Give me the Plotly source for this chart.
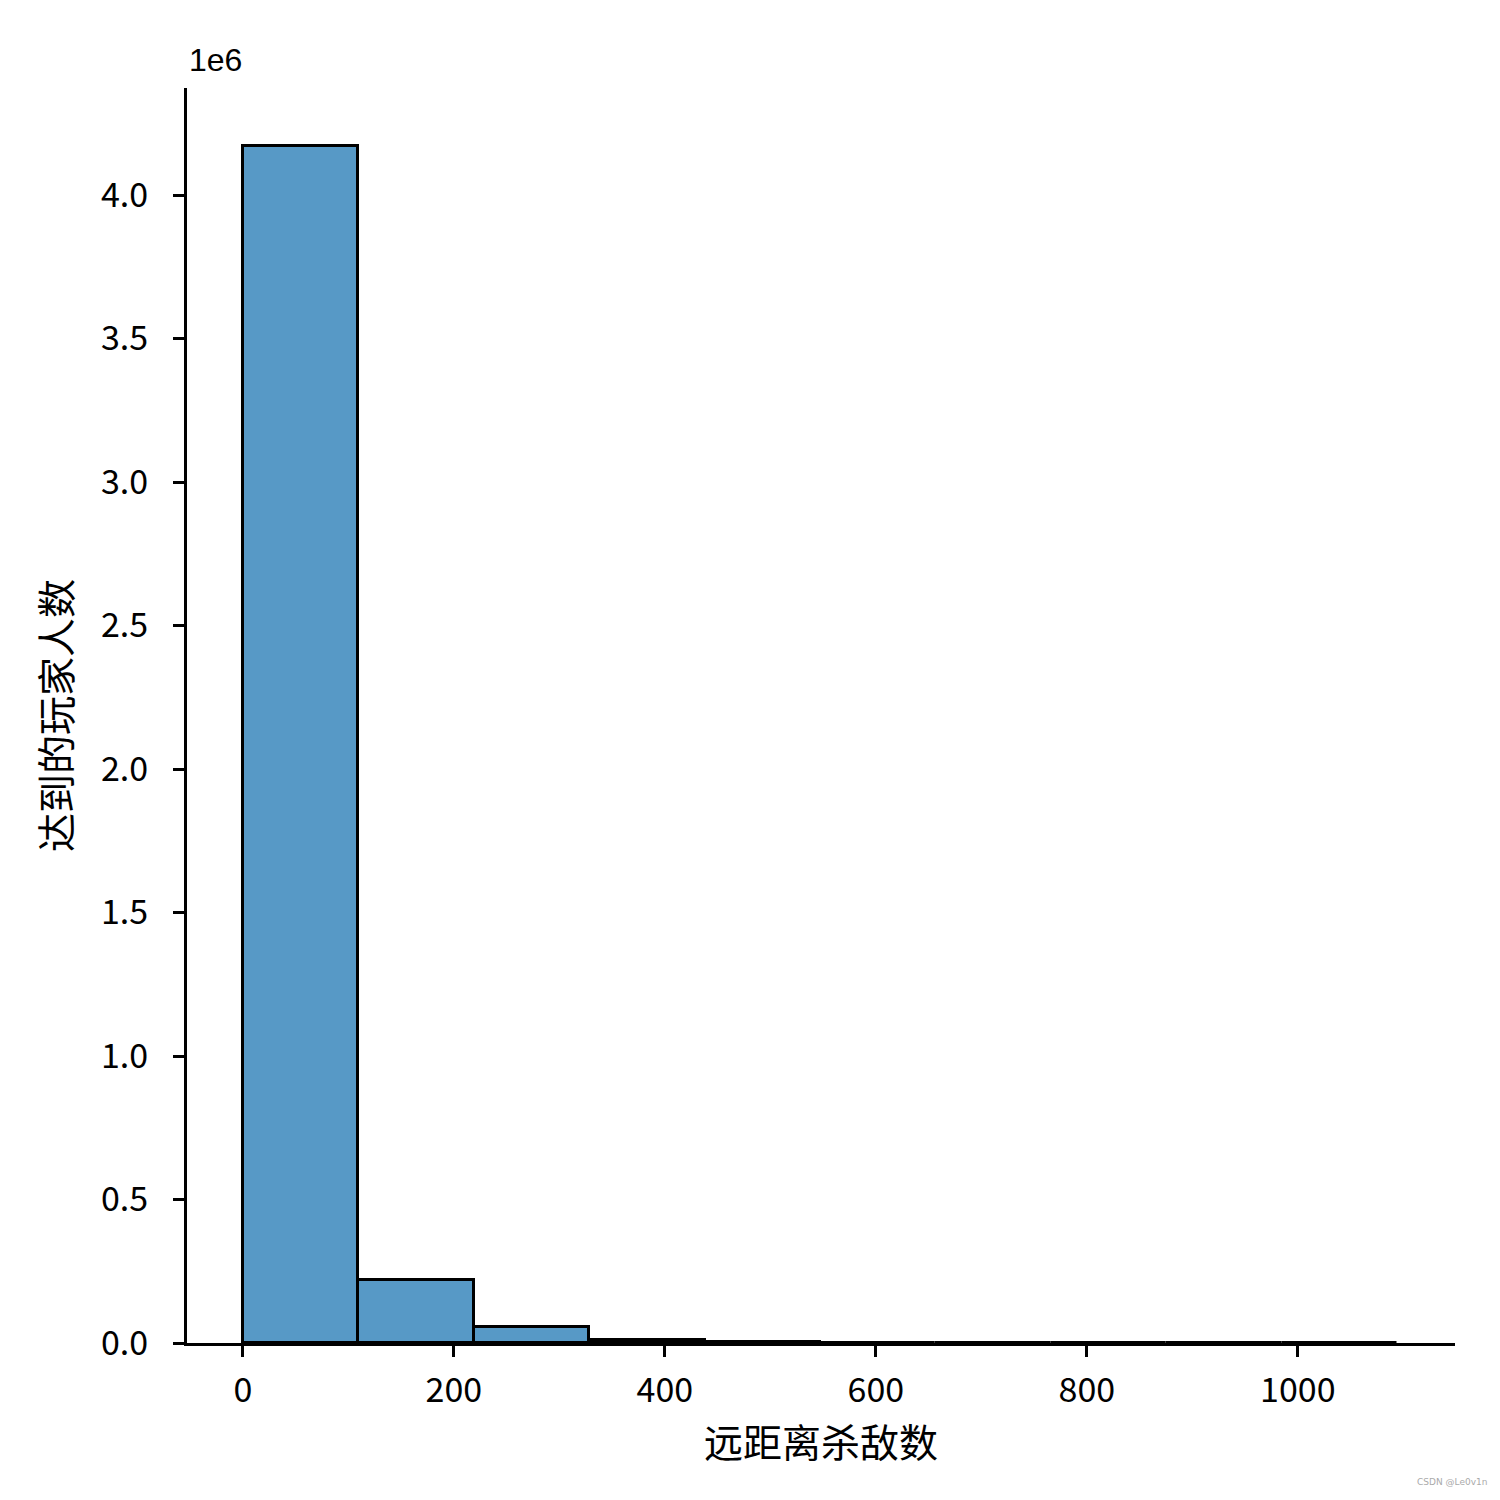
import numpy as np
import plotly.graph_objects as go

# histogram of long-distance kills (10 bins)
bin_edges = np.linspace(0, 1094, 11)
counts = [4171000, 219500, 55700, 9000, 2500, 1200, 600, 300, 150, 100]

y_tick_vals = [0, 0.5e6, 1.0e6, 1.5e6, 2.0e6, 2.5e6, 3.0e6, 3.5e6, 4.0e6]
y_tick_text = ["0.0", "0.5", "1.0", "1.5", "2.0", "2.5", "3.0", "3.5", "4.0"]
x_tick_vals = [0, 200, 400, 600, 800, 1000]

FONT = "Noto Sans CJK SC"
BAR_COLOR = "#5799c6"

centers = (bin_edges[:-1] + bin_edges[1:]) / 2
widths = np.diff(bin_edges)

fig = go.Figure()
fig.add_trace(go.Bar(
    x=centers,
    y=counts,
    width=widths,
    marker=dict(color=BAR_COLOR, line=dict(color="black", width=3)),
))

# page body adds an 8px offset, margins compensate for it
fig.update_layout(
    width=1500,
    height=1500,
    margin=dict(l=179, r=53, t=80, b=165),
    plot_bgcolor="white",
    paper_bgcolor="white",
    font=dict(family=FONT, color="black", size=34),
    showlegend=False,
    bargap=0,
)

fig.update_xaxes(
    range=[-53, 1149],
    tickvals=x_tick_vals,
    ticks="outside",
    ticklen=11,
    tickwidth=3,
    tickcolor="black",
    showline=True,
    linecolor="black",
    linewidth=3,
    showgrid=False,
    zeroline=False,
    tickfont=dict(size=34),
    ticklabelstandoff=4,
    title=dict(text="远距离杀敌数", font=dict(size=39), standoff=8),
)
fig.update_yaxes(
    range=[0, 4.373e6],
    tickvals=y_tick_vals,
    ticktext=y_tick_text,
    ticks="outside",
    ticklen=11,
    tickwidth=3,
    tickcolor="black",
    showline=True,
    linecolor="black",
    linewidth=3,
    showgrid=False,
    zeroline=False,
    tickfont=dict(size=34),
    ticklabelstandoff=18,
    title=dict(text="达到的玩家人数", font=dict(size=39), standoff=18),
)

fig.add_annotation(
    text="1e6", xref="paper", yref="paper", x=0, y=1.0,
    xanchor="left", yanchor="bottom", yshift=8, showarrow=False,
    font=dict(family="Liberation Sans", size=32),
)
fig.add_annotation(
    text="CSDN @Le0v1n", xref="paper", yref="paper", x=1.0, y=0,
    xanchor="right", yanchor="top", xshift=34, yshift=-132, showarrow=False,
    font=dict(family="DejaVu Sans", size=9, color="#aaaaaa"),
)

fig.write_html("out.html")
